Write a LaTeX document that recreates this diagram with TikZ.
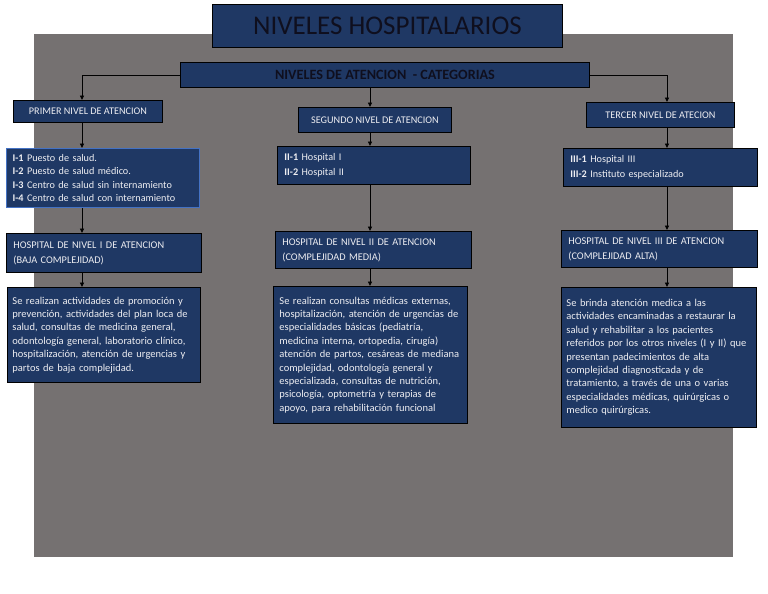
\documentclass[tikz,border=0pt]{standalone}
\usepackage{fontspec}
\setmainfont{Carlito}
\usetikzlibrary{arrows.meta}
\definecolor{bgray}{RGB}{117,113,113}
\definecolor{nblue}{RGB}{31,56,100}
\definecolor{ttext}{RGB}{15,15,30}
\definecolor{lblue}{RGB}{68,114,196}
\definecolor{wtext}{RGB}{238,238,242}
\begin{document}
\begin{tikzpicture}[x=1pt,y=-1pt,
  box/.style={draw=black, fill=nblue, line width=0.9pt, anchor=north west, inner sep=0pt, text=wtext},
  lbl/.style={box, font=\fontsize{10.2}{12}\selectfont},
  lst/.style={box, align=left, font=\fontsize{10.2}{13.5}\selectfont},
  hos/.style={box, align=left, font=\fontsize{10.3}{15}\selectfont},
  dsc/.style={box, align=left, font=\fontsize{10.5}{13.4}\selectfont},
  arr/.style={-{Triangle[length=4.5pt,width=4pt]}, line width=0.9pt, black}]
\useasboundingbox (0,0) rectangle (768,594);
\fill[white] (0,0) rectangle (768,594);
\fill[bgray] (34,34) rectangle (733,557);

\node[box, minimum width=350, minimum height=43, text=ttext, font=\fontsize{27}{32}\selectfont] (title) at (212,4) {NIVELES HOSPITALARIOS};
\node[box, minimum width=409, minimum height=25, text=ttext, font=\bfseries\fontsize{14.2}{16}\selectfont] (cat) at (180,62) {NIVELES DE ATENCION \ - CATEGORIAS};

\node[lbl, minimum width=149, minimum height=22] (p1) at (13,100) {PRIMER NIVEL DE ATENCION};
\node[lbl, minimum width=153, minimum height=25] (p2) at (298,107) {SEGUNDO NIVEL DE ATENCION};
\node[lbl, minimum width=148, minimum height=25] (p3) at (586,102) {TERCER NIVEL DE ATECION};

\node[lst, draw=lblue, line width=1.2pt, minimum width=193, minimum height=59, text width=181] (l1) at (6,148)
  {\textbf{I-1} Puesto de salud.\\ \textbf{I-2} Puesto de salud médico.\\ \textbf{I-3} Centro de salud sin internamiento\\ \textbf{I-4} Centro de salud con internamiento};
\node[lst, minimum width=193, minimum height=38, text width=179, font=\fontsize{10.2}{14.5}\selectfont] (l2) at (277,146)
  {\textbf{II-1} Hospital I\\ \textbf{II-2} Hospital II};
\node[lst, minimum width=194, minimum height=38, text width=180, font=\fontsize{10.2}{14.5}\selectfont] (l3) at (563,148)
  {\textbf{III-1} Hospital III\\ \textbf{III-2} Instituto especializado};

\node[hos, minimum width=195, minimum height=39, text width=181] (h1) at (6,233)
  {HOSPITAL DE NIVEL I DE ATENCION\\(BAJA COMPLEJIDAD)};
\node[hos, minimum width=196, minimum height=37, text width=182] (h2) at (275,231)
  {HOSPITAL DE NIVEL II DE ATENCION\\(COMPLEJIDAD MEDIA)};
\node[hos, minimum width=196, minimum height=37, text width=182] (h3) at (561,230)
  {HOSPITAL DE NIVEL III DE ATENCION\\(COMPLEJIDAD ALTA)};

\node[dsc, minimum width=193, minimum height=95, text width=183] (d1) at (7,287)
  {Se realizan actividades de promoción y\\
   prevención, actividades del plan loca de\\
   salud, consultas de medicina general,\\
   odontología general, laboratorio clínico,\\
   hospitalización, atención de urgencias y\\
   partos de baja complejidad.};
\node[dsc, minimum width=194, minimum height=137, text width=182] (d2) at (273,286)
  {Se realizan consultas médicas externas,\\
   hospitalización, atención de urgencias de\\
   especialidades básicas (pediatría,\\
   medicina interna, ortopedia, cirugía)\\
   atención de partos, cesáreas de mediana\\
   complejidad, odontología general y\\
   especializada, consultas de nutrición,\\
   psicología, optometría y terapias de\\
   apoyo, para rehabilitación funcional};
\node[dsc, minimum width=195, minimum height=140, text width=185] (d3) at (561,287)
  {Se brinda atención medica a las\\
   actividades encaminadas a restaurar la\\
   salud y rehabilitar a los pacientes\\
   referidos por los otros niveles (I y II) que\\
   presentan padecimientos de alta\\
   complejidad diagnosticada y de\\
   tratamiento, a través de una o varias\\
   especialidades médicas, quirúrgicas o\\
   medico quirúrgicas.};

\coordinate (c1) at (82,0);
\coordinate (c2) at (370,0);
\coordinate (c3) at (667,0);

\draw[arr] (cat.west) -| (p1.north -| c1);
\draw[arr] (cat.south -| c2) -- (p2.north -| c2);
\draw[arr] (cat.east) -| (p3.north -| c3);

\draw[arr] (p1.south -| c1) -- (l1.north -| c1);
\draw[arr] (l1.south -| c1) -- (h1.north -| c1);
\draw[arr] (h1.south -| c1) -- (d1.north -| c1);

\draw[arr] (p2.south -| c2) -- (l2.north -| c2);
\draw[arr] (l2.south -| c2) -- (h2.north -| c2);
\draw[arr] (h2.south -| c2) -- (d2.north -| c2);

\draw[arr] (p3.south -| c3) -- (l3.north -| c3);
\draw[arr] (l3.south -| c3) -- (h3.north -| c3);
\draw[arr] (h3.south -| c3) -- (d3.north -| c3);
\end{tikzpicture}
\end{document}
